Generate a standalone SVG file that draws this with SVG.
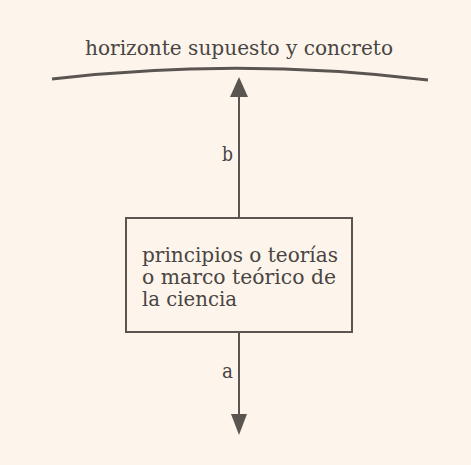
<svg xmlns="http://www.w3.org/2000/svg" width="471" height="465" viewBox="0 0 471 465">
<defs>
<style>
.t{font-family:"DejaVu Serif","Liberation Serif",serif;fill:#4a4542;font-size:21px}
.ln{stroke:#5a5550;stroke-width:3;fill:none}
</style>
</defs>
<rect width="471" height="465" fill="#fdf5ec"/>
<g id="horizonte">
<path class="ln" d="M52,79 Q240,57 428,80"/>
<text class="t" x="85" y="55" font-size="22" textLength="308" lengthAdjust="spacingAndGlyphs">horizonte supuesto y concreto</text>
</g>
<g id="marco">
<rect x="126" y="218" width="226" height="114" fill="none" stroke="#5a5550" stroke-width="2"/>
<text class="t" x="142" y="262" textLength="196" lengthAdjust="spacingAndGlyphs">principios o teorías</text>
<text class="t" x="142" y="284" textLength="194" lengthAdjust="spacingAndGlyphs">o marco teórico de</text>
<text class="t" x="142" y="306" textLength="95" lengthAdjust="spacingAndGlyphs">la ciencia</text>
</g>
<g id="connectors">
<line x1="239" y1="218" x2="239" y2="96" stroke="#5a5550" stroke-width="2"/>
<path d="M230,97 L239,77 L248,97 z" fill="#5a5550"/>
<line x1="239" y1="332" x2="239" y2="415" stroke="#5a5550" stroke-width="2"/>
<path d="M231,414 L239,435 L247,414 z" fill="#5a5550"/>
<text class="t" x="222" y="161" font-size="22" textLength="11" lengthAdjust="spacingAndGlyphs">b</text>
<text class="t" x="222" y="378" font-size="22" textLength="11" lengthAdjust="spacingAndGlyphs">a</text>
</g>
</svg>
